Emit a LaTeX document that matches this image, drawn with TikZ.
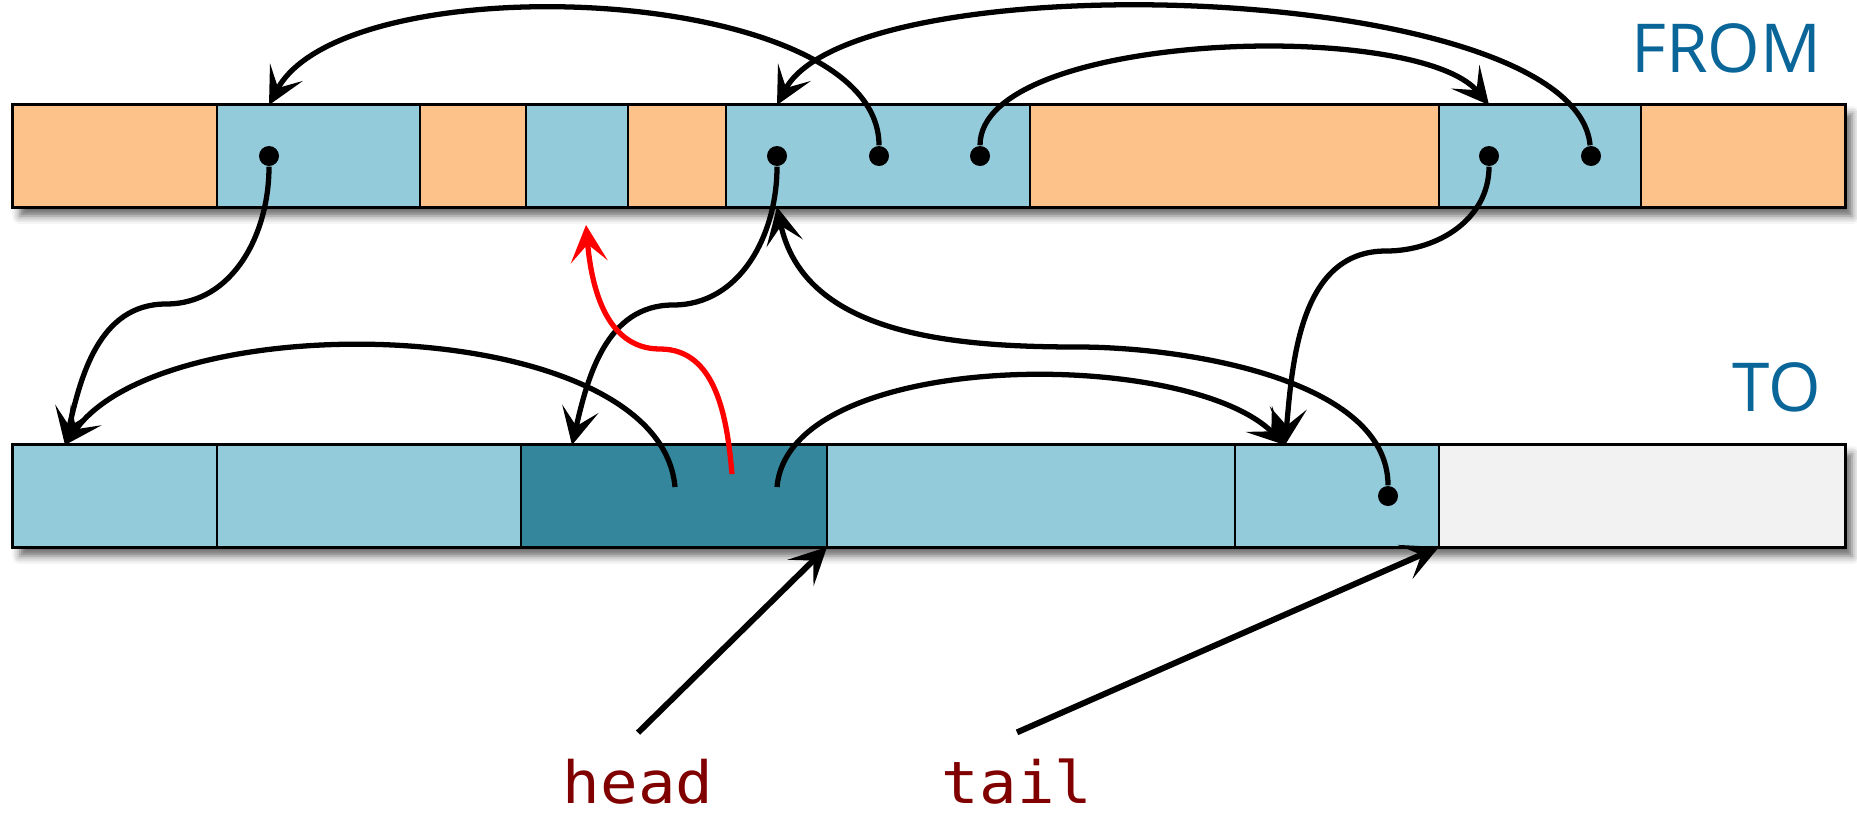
\documentclass[tikz,border=0pt]{standalone}
\usepackage{fontspec}
\usepackage{xcolor}
\usepackage{tikz}
\usetikzlibrary{positioning, arrows.meta, fit, backgrounds, shadows.blur}
\newfontfamily\spacefont{Open Sans}
\newfontfamily\codefont[FakeStretch=1.07]{DejaVu Sans Mono}
\definecolor{gcDead}{HTML}{FCC28A}
\definecolor{gcLive}{HTML}{94CBDB}
\definecolor{gcScan}{HTML}{33869B}
\definecolor{gcFree}{HTML}{F2F2F2}
\definecolor{gcTitle}{HTML}{0A6699}
\definecolor{gcCode}{HTML}{800000}
\definecolor{gcRed}{HTML}{FF0000}
\tikzset{
  cell/.style    ={draw=black, line width=0.6pt, minimum height=1.02cm, inner sep=0pt, outer sep=0pt},
  dead/.style    ={cell, fill=gcDead},
  live/.style    ={cell, fill=gcLive},
  scan/.style    ={cell, fill=gcScan},
  free/.style    ={cell, fill=gcFree},
  heap/.style    ={draw=black, line width=1.4pt, fill=white, inner sep=0pt,
                   blur shadow={shadow xshift=0.07cm, shadow yshift=-0.09cm, shadow blur radius=0.08cm, shadow opacity=60}},
  ptrdot/.style  ={circle, fill=black, inner sep=0pt, minimum size=0.2cm},
  arr/.style     ={-{Stealth[length=10.5pt, width=10.5pt, inset=5pt]}, line width=1.5pt, black},
  redarr/.style  ={arr, gcRed},
  ptr/.style     ={arr, line width=1.7pt},
  spacelbl/.style={font=\spacefont\fontsize{19.2pt}{23pt}\selectfont, text=gcTitle, inner sep=0pt, anchor=base east},
  codelbl/.style ={font=\codefont\fontsize{16.6pt}{19pt}\selectfont, text=gcCode, inner sep=0pt, outer sep=0.26cm, anchor=base},
}
\begin{document}
\begin{tikzpicture}
\useasboundingbox (0,0) rectangle (18.57,8.13);

% ---- from-space ----
\node[dead, minimum width=2.04cm, anchor=west] (f1) at (0.13,6.57) {};
\node[live, minimum width=2.03cm, right=0pt of f1] (f2) {};
\node[dead, minimum width=1.06cm, right=0pt of f2] (f3) {};
\node[live, minimum width=1.02cm, right=0pt of f3] (f4) {};
\node[dead, minimum width=0.98cm, right=0pt of f4] (f5) {};
\node[live, minimum width=3.04cm, right=0pt of f5] (f6) {};
\node[dead, minimum width=4.09cm, right=0pt of f6] (f7) {};
\node[live, minimum width=2.02cm, right=0pt of f7] (f8) {};
\node[dead, minimum width=2.04cm, right=0pt of f8] (f9) {};
\node[spacelbl] (fromlbl) at (18.22,7.41) {FROM};

% ---- to-space ----
\node[live, minimum width=2.04cm, anchor=west] (t1) at (0.13,3.17) {};
\node[live, minimum width=3.04cm, right=0pt of t1] (t2) {};
\node[scan, minimum width=3.06cm, right=0pt of t2] (t3) {};
\node[live, minimum width=4.08cm, right=0pt of t3] (t4) {};
\node[live, minimum width=2.04cm, right=0pt of t4] (t5) {};
\node[free, minimum width=4.06cm, right=0pt of t5] (t6) {};
\node[spacelbl] (tolbl) at (18.22,4.02) {TO};

% frames with shadow
\begin{scope}[on background layer]
\node[heap, fit=(f1)(f9)] (fromsp) {};
\node[heap, fit=(t1)(t6)] (tosp) {};
\end{scope}

% pointer slots
\node[ptrdot] (a1) at (2.69,6.57) {};
\node[ptrdot] (a2) at (7.77,6.57) {};
\node[ptrdot] (a3) at (8.79,6.57) {};
\node[ptrdot] (a4) at (9.80,6.57) {};
\node[ptrdot] (a5) at (14.89,6.57) {};
\node[ptrdot] (a6) at (15.91,6.57) {};
\node[ptrdot] (a7) at (13.88,3.17) {};
\coordinate (s1) at (6.75,3.26);
\coordinate (s2) at (7.77,3.26);
\coordinate (r0) at (7.32,3.39);
\coordinate (r1) at (5.86,5.88);

% ---- pointers inside from-space ----
\draw[arr] (a3) to[out=90,in=62,looseness=0.68] (a1 |- f2.north);
\draw[arr] (a6) to[out=95,in=62,looseness=0.52] (a2 |- f6.north);
\draw[arr] (a4) to[out=90,in=130,looseness=0.57] (a5 |- f8.north);

% ---- forwarding pointers ----
\draw[arr] (a1) to[out=-90,in=0] (1.66,5.09) to[out=180,in=77] ([xshift=0.52cm]t1.north west);
\draw[arr] (a2) to[out=-90,in=0] (6.73,5.08) to[out=180,in=77] ([xshift=0.51cm]t3.north west);
\draw[arr] (a5) to[out=-90,in=0] (13.86,5.62) to[out=180,in=85] ([xshift=0.5cm]t5.north west);

% ---- pointers inside to-space ----
\draw[arr] (s1) to[out=95,in=55,looseness=0.73] ([xshift=0.52cm]t1.north west);
\draw[arr] (s2) to[out=85,in=135,looseness=0.7] ([xshift=0.5cm]t5.north west);
\draw[arr] (a7) to[out=90,in=0,looseness=0.8] (10.78,4.66) to[out=180,in=-78] (a2 |- f6.south);
\draw[redarr] (r0) to[out=95,in=0] (6.60,4.64) to[out=180,in=-85] (r1);

% ---- head / tail ----
\node[codelbl] (head) at (6.38,0.10) {head};
\node[codelbl] (tail) at (10.17,0.10) {tail};
\draw[ptr] (head.north) -- (t3.south east);
\draw[ptr] (tail.north) -- (t5.south east);
\end{tikzpicture}
\end{document}
